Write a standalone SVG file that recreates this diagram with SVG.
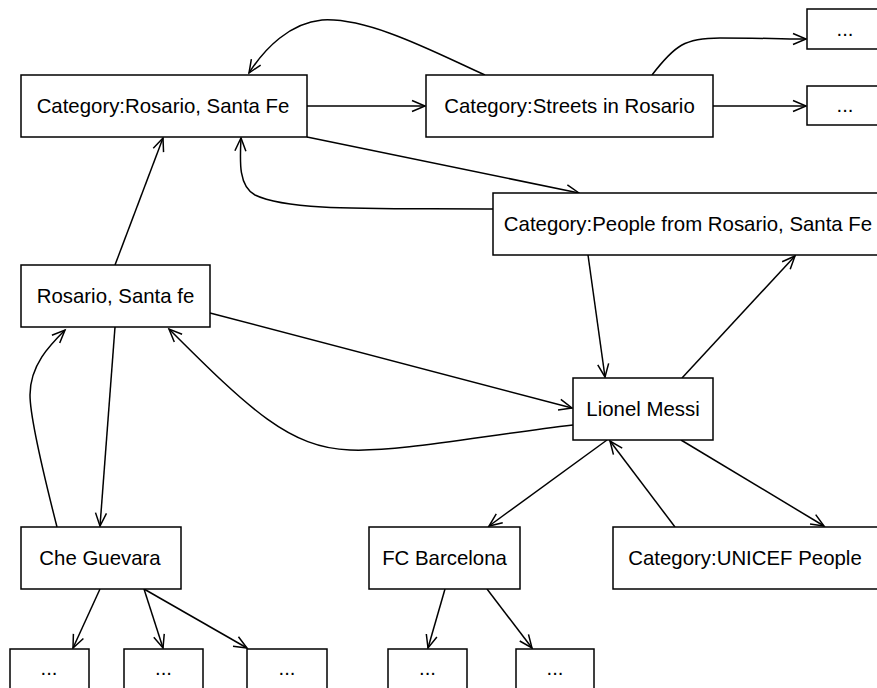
<svg xmlns="http://www.w3.org/2000/svg" width="877" height="688" viewBox="0 0 877 688">
<style>
.box{fill:#fff;stroke:#000;stroke-width:1.5}
.lbl{font-family:"Liberation Sans",Arial,Helvetica,sans-serif;font-size:20.4px;fill:#000;text-anchor:middle}
.edge{fill:none;stroke:#000;stroke-width:1.5;marker-end:url(#arr)}
</style>
<defs>
<marker id="arr" markerUnits="userSpaceOnUse" viewBox="-15 -8 17 16" refX="0" refY="0" markerWidth="17" markerHeight="16" orient="auto" overflow="visible">
<path d="M-13,-5.5 L0,0 L-13,5.5" fill="none" stroke="#000" stroke-width="1.5"/>
</marker>
</defs>
<rect width="877" height="688" fill="#fff"/>
<g id="connectors">
<path class="edge" d="M485,75 C440,55 370,17 322,20 C290,23 265,48 249,73"/>
<path class="edge" d="M307,106 L425,106"/>
<path class="edge" d="M652,75 C675,45 685,38 720,38 C760,38 790,39 806,39"/>
<path class="edge" d="M713,106 L806,106"/>
<path class="edge" d="M307,137 L579,193"/>
<path class="edge" d="M493,209 C380,208 290,212 255,195 C238,186 240,160 241,138"/>
<path class="edge" d="M115,265 L163,138"/>
<path class="edge" d="M210,313 L572,408"/>
<path class="edge" d="M573,425 C480,436 400,452 350,450 C290,448 250,410 169,329"/>
<path class="edge" d="M115,327 L100,526"/>
<path class="edge" d="M57,527 C45,480 30,420 30,395 C30,365 50,345 65,330"/>
<path class="edge" d="M588,255 L605,377"/>
<path class="edge" d="M682,378 L795,256"/>
<path class="edge" d="M607,440 L489,526"/>
<path class="edge" d="M675,527 L610,441"/>
<path class="edge" d="M681,440 L824,526"/>
<path class="edge" d="M100,589 L73,648"/>
<path class="edge" d="M144,589 L163,648"/>
<path class="edge" d="M144,589 L247,648"/>
<path class="edge" d="M445,589 L428,648"/>
<path class="edge" d="M487,589 L532,648"/>
</g>
<g id="cat-rosario"><rect class="box" x="21" y="75" width="286" height="62"/><text class="lbl" x="163" y="113">Category:Rosario, Santa Fe</text></g>
<g id="cat-streets"><rect class="box" x="426" y="75" width="287" height="62"/><text class="lbl" x="569.5" y="113">Category:Streets in Rosario</text></g>
<g id="streets-more-1"><rect class="box" x="807" y="9" width="79" height="40"/><text class="lbl" x="845" y="36">...</text></g>
<g id="streets-more-2"><rect class="box" x="807" y="86" width="79" height="39"/><text class="lbl" x="845" y="112">...</text></g>
<g id="cat-people"><rect class="box" x="493" y="193" width="390" height="62"/><text class="lbl" x="688" y="231">Category:People from Rosario, Santa Fe</text></g>
<g id="rosario"><rect class="box" x="21" y="265" width="189" height="62"/><text class="lbl" x="115.5" y="303">Rosario, Santa fe</text></g>
<g id="messi"><rect class="box" x="573" y="378" width="140" height="62"/><text class="lbl" x="643" y="416">Lionel Messi</text></g>
<g id="che"><rect class="box" x="21" y="527" width="160" height="62"/><text class="lbl" x="100" y="565">Che Guevara</text></g>
<g id="fcb"><rect class="box" x="369" y="527" width="151" height="62"/><text class="lbl" x="444.5" y="565">FC Barcelona</text></g>
<g id="unicef"><rect class="box" x="613" y="527" width="266" height="62"/><text class="lbl" x="745" y="565">Category:UNICEF People</text></g>
<g id="che-more-1"><rect class="box" x="10" y="649" width="79" height="42"/><text class="lbl" x="49" y="675">...</text></g>
<g id="che-more-2"><rect class="box" x="124" y="649" width="79" height="42"/><text class="lbl" x="163.5" y="675">...</text></g>
<g id="che-more-3"><rect class="box" x="247" y="649" width="80" height="42"/><text class="lbl" x="287" y="675">...</text></g>
<g id="fcb-more-1"><rect class="box" x="388" y="649" width="79" height="42"/><text class="lbl" x="427.5" y="675">...</text></g>
<g id="fcb-more-2"><rect class="box" x="516" y="649" width="78" height="42"/><text class="lbl" x="555" y="675">...</text></g>
</svg>
